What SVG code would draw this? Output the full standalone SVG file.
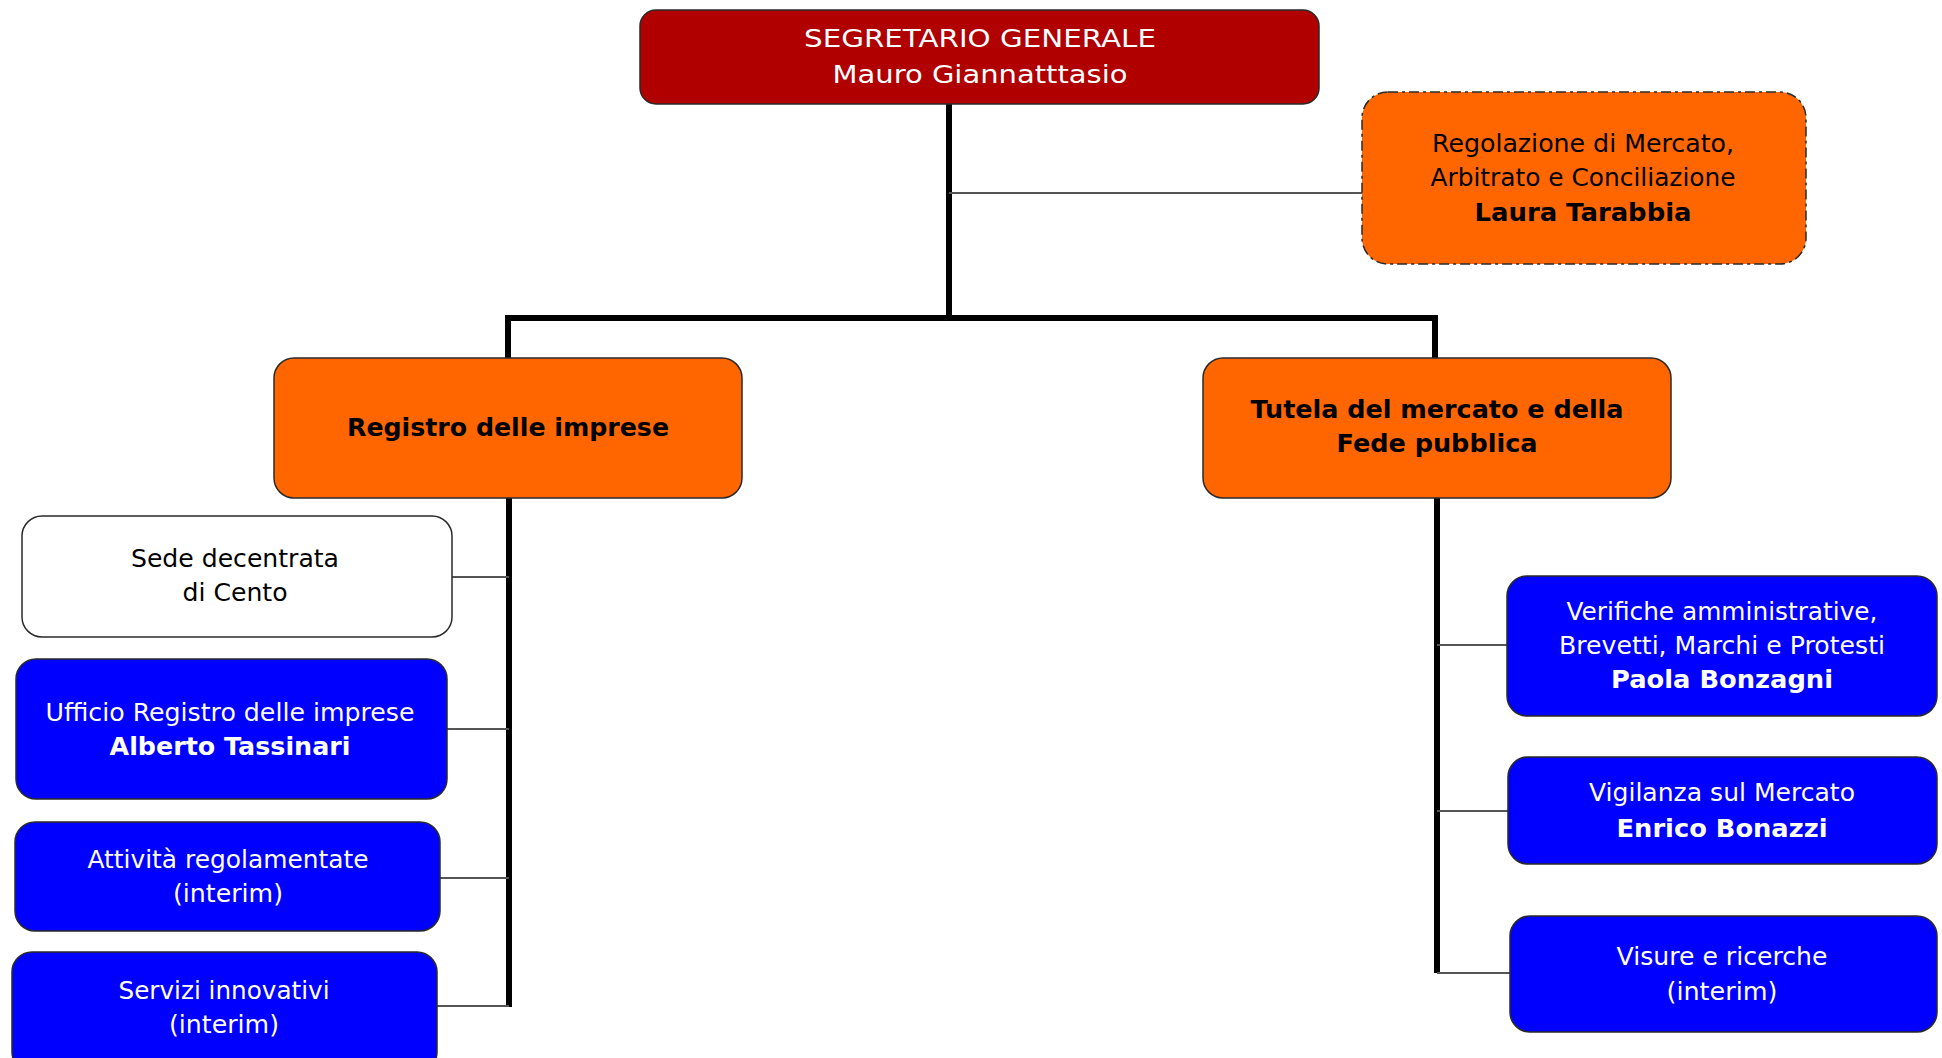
<svg xmlns="http://www.w3.org/2000/svg" width="1942" height="1058" viewBox="0 0 1942 1058">
<style>
.box{stroke:#2a2a2a;stroke-width:1.5}
.red{fill:#B00000}
.org{fill:#FF6600}
.blu{fill:#0000FF}
.wht{fill:#FFFFFF}
.t{font-family:"DejaVu Sans","Liberation Sans",sans-serif;font-size:24px;text-anchor:middle}
.b{font-weight:bold}
.w{fill:#FFFFFF}
.k{fill:#000000}
.thick{stroke:#000;stroke-width:6;fill:none}
.thin{stroke:#555;stroke-width:2;fill:none}
</style>
<rect width="1942" height="1058" fill="#FFFFFF"/>
<g id="connectors">
<path class="thick" d="M949 104 V318"/>
<path class="thin" d="M949 193 H1362"/>
<path class="thick" d="M508 318 H1435 M508 315 V358 M1435 315 V358"/>
<path class="thick" d="M509 498 V1007"/>
<path class="thin" d="M452 577 H509 M447 729 H509 M440 878 H509 M437 1006 H509"/>
<path class="thick" d="M1437 498 V973"/>
<path class="thin" d="M1437 645 H1507 M1437 811 H1508 M1437 973 H1510"/>
</g>
<g id="segretario">
<rect class="box red" x="640" y="10" width="679" height="94" rx="16"/>
<text class="t w" x="980" y="47" textLength="352" lengthAdjust="spacingAndGlyphs">SEGRETARIO GENERALE</text>
<text class="t w" x="980" y="83" textLength="295" lengthAdjust="spacingAndGlyphs">Mauro Giannatttasio</text>
</g>
<g id="regolazione">
<rect class="org" x="1362" y="92" width="444" height="172" rx="26" stroke="#2a2a2a" stroke-width="1.5" stroke-dasharray="10,4,3,4"/>
<text class="t k" x="1583" y="152" textLength="302" lengthAdjust="spacingAndGlyphs">Regolazione di Mercato,</text>
<text class="t k" x="1583" y="186" textLength="305" lengthAdjust="spacingAndGlyphs">Arbitrato e Conciliazione</text>
<text class="t k b" x="1583" y="221" textLength="217" lengthAdjust="spacingAndGlyphs">Laura Tarabbia</text>
</g>
<g id="registro">
<rect class="box org" x="274" y="358" width="468" height="140" rx="20"/>
<text class="t k b" x="508" y="436" textLength="322" lengthAdjust="spacingAndGlyphs">Registro delle imprese</text>
</g>
<g id="tutela">
<rect class="box org" x="1203" y="358" width="468" height="140" rx="20"/>
<text class="t k b" x="1437" y="418" textLength="373" lengthAdjust="spacingAndGlyphs">Tutela del mercato e della</text>
<text class="t k b" x="1437" y="452" textLength="201" lengthAdjust="spacingAndGlyphs">Fede pubblica</text>
</g>
<g id="sede">
<rect class="box wht" x="22" y="516" width="430" height="121" rx="20"/>
<text class="t k" x="235" y="567" textLength="208" lengthAdjust="spacingAndGlyphs">Sede decentrata</text>
<text class="t k" x="235" y="601" textLength="105" lengthAdjust="spacingAndGlyphs">di Cento</text>
</g>
<g id="ufficio">
<rect class="box blu" x="16" y="659" width="431" height="140" rx="20"/>
<text class="t w" x="230" y="721" textLength="369" lengthAdjust="spacingAndGlyphs">Ufficio Registro delle imprese</text>
<text class="t w b" x="230" y="755" textLength="241" lengthAdjust="spacingAndGlyphs">Alberto Tassinari</text>
</g>
<g id="attivita">
<rect class="box blu" x="15" y="822" width="425" height="109" rx="20"/>
<text class="t w" x="228" y="868" textLength="281" lengthAdjust="spacingAndGlyphs">Attività regolamentate</text>
<text class="t w" x="228" y="902" textLength="110" lengthAdjust="spacingAndGlyphs">(interim)</text>
</g>
<g id="servizi">
<rect class="box blu" x="12" y="952" width="425" height="120" rx="20"/>
<text class="t w" x="224" y="999" textLength="211" lengthAdjust="spacingAndGlyphs">Servizi innovativi</text>
<text class="t w" x="224" y="1033" textLength="110" lengthAdjust="spacingAndGlyphs">(interim)</text>
</g>
<g id="verifiche">
<rect class="box blu" x="1507" y="576" width="430" height="140" rx="20"/>
<text class="t w" x="1722" y="620" textLength="311" lengthAdjust="spacingAndGlyphs">Verifiche amministrative,</text>
<text class="t w" x="1722" y="654" textLength="326" lengthAdjust="spacingAndGlyphs">Brevetti, Marchi e Protesti</text>
<text class="t w b" x="1722" y="688" textLength="222" lengthAdjust="spacingAndGlyphs">Paola Bonzagni</text>
</g>
<g id="vigilanza">
<rect class="box blu" x="1508" y="757" width="429" height="107" rx="20"/>
<text class="t w" x="1722" y="801" textLength="266" lengthAdjust="spacingAndGlyphs">Vigilanza sul Mercato</text>
<text class="t w b" x="1722" y="837" textLength="211" lengthAdjust="spacingAndGlyphs">Enrico Bonazzi</text>
</g>
<g id="visure">
<rect class="box blu" x="1510" y="916" width="427" height="116" rx="20"/>
<text class="t w" x="1722" y="965" textLength="211" lengthAdjust="spacingAndGlyphs">Visure e ricerche</text>
<text class="t w" x="1722" y="1000" textLength="111" lengthAdjust="spacingAndGlyphs">(interim)</text>
</g>
</svg>
